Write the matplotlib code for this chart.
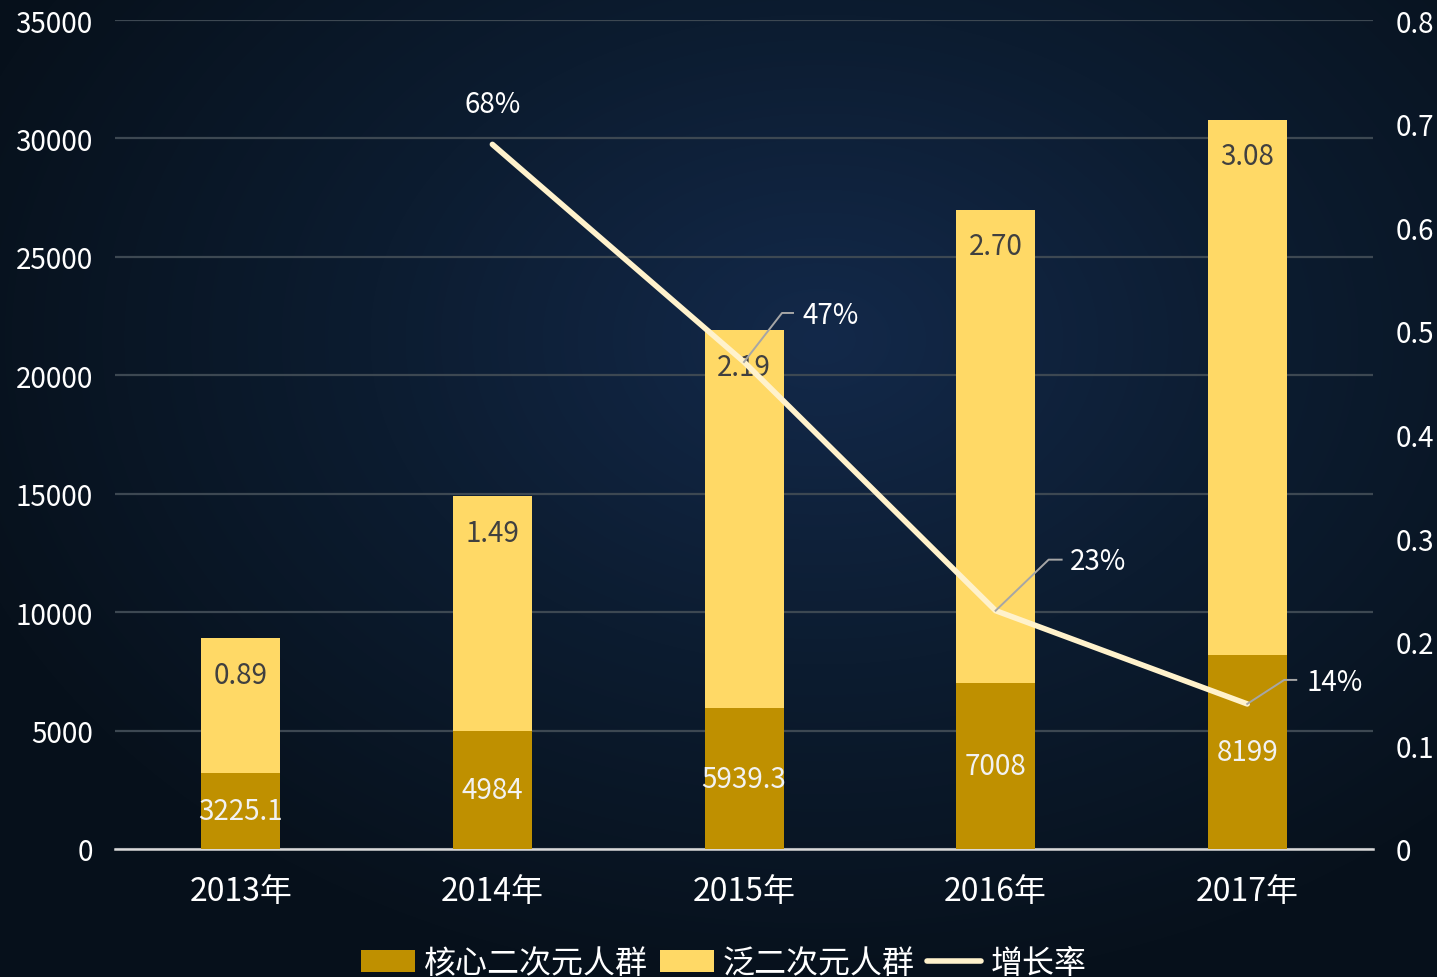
import numpy as np
import matplotlib
matplotlib.use("Agg")
import matplotlib.pyplot as plt
from matplotlib.colors import LinearSegmentedColormap

plt.rcParams['font.family'] = ['Noto Sans CJK SC', 'DejaVu Sans']

# data
years = ['2013年', '2014年', '2015年', '2016年', '2017年']
core = [3225.1, 4984, 5939.3, 7008, 8199]          # 核心二次元人群 (万人)
total_yi = [0.89, 1.49, 2.19, 2.70, 3.08]          # 总人数 (亿人)
growth = [np.nan, 0.68, 0.47, 0.23, 0.14]          # 增长率
growth_labels = ['', '68%', '47%', '23%', '14%']

pan = [t * 10000 - c for t, c in zip(total_yi, core)]  # 泛二次元人群
total = [t * 10000 for t in total_yi]

fig = plt.figure(figsize=(14.37, 9.78), dpi=100)

# background radial gradient
bg = fig.add_axes([0, 0, 1, 1], zorder=-10)
yy, xx = np.mgrid[0:978, 0:1437]
r = np.sqrt(((xx - 820) / 900.0) ** 2 + ((yy - 340) / 650.0) ** 2)
cmap = LinearSegmentedColormap.from_list('bg', ['#13294a', '#0c1c30', '#07111c'])
bg.imshow(np.clip(r, 0, 1), cmap=cmap, aspect='auto', extent=[0, 1, 0, 1])
bg.axis('off')

ax = fig.add_axes([0.080, 0.1309, 0.8755, 0.8476])
ax.patch.set_alpha(0)
ax2 = ax.twinx()
ax2.patch.set_alpha(0)

x = np.arange(len(years))
w = 0.314
ax.bar(x, core, w, color='#BF9000', label='核心二次元人群', zorder=3)
ax.bar(x, pan, w, bottom=core, color='#FFD966', label='泛二次元人群', zorder=3)

ax.set_xlim(-0.5, 4.5)
ax.set_ylim(0, 35000)
ax.set_yticks(range(0, 35001, 5000))
ax.yaxis.grid(True, color='#3d4852', linewidth=1.6, zorder=0)
ax.set_axisbelow(True)
for s in ['top', 'right', 'left']:
    ax.spines[s].set_visible(False)
ax.spines['bottom'].set_color('#d9d9d9')
ax.spines['bottom'].set_linewidth(1.8)
ax.set_xticks(x)
ax.set_xticklabels(years)
ax.tick_params(axis='x', length=0, labelsize=23, colors='white', pad=19)
ax.tick_params(axis='y', length=0, labelsize=20, colors='white', pad=16)

for i in range(len(years)):
    ax.text(x[i], core[i] / 2, f'{core[i]:g}', ha='center', va='center',
            color='#f2f2f2', fontsize=20, zorder=5)
    ax.annotate(f'{total_yi[i]:.2f}', xy=(x[i], total[i]), xytext=(0, -26.5),
                textcoords='offset points', ha='center', va='center',
                color='#404040', fontsize=20, zorder=5)

ax2.plot(x, growth, color='#FFF2CC', linewidth=4, solid_capstyle='round',
         solid_joinstyle='round', label='增长率', zorder=4)
ax2.set_ylim(0, 0.8)
ax2.set_yticks(np.arange(0, 0.81, 0.1))
ax2.set_yticklabels(['0'] + [f'{v:.1f}' for v in np.arange(0.1, 0.81, 0.1)])
ax2.tick_params(axis='y', length=0, labelsize=20, colors='white', pad=16)
for s in ['top', 'right', 'left', 'bottom']:
    ax2.spines[s].set_visible(False)

# growth labels (pixel offsets: elbow dx, elbow dy, end dx, text dx, text dy)
offsets = {
    1: None,
    2: (38, 49, 49, 58, 47),
    3: (53, 51, 66, 74, 50),
    4: (37, 24, 49, 59, 22),
}
for i in range(1, len(years)):
    px, py = ax2.transData.transform((x[i], growth[i]))
    if offsets[i] is None:
        tx, ty = px, py + 40
        ha = 'center'
    else:
        ex, ey, endx, tdx, tdy = offsets[i]
        pts = np.array([(px, py), (px + ex, py + ey), (px + endx, py + ey)])
        pts = ax2.transData.inverted().transform(pts)
        ax2.plot(pts[:, 0], pts[:, 1], color='#a6a6a6', linewidth=1.4, zorder=6)
        tx, ty = px + tdx, py + tdy
        ha = 'left'
    tx, ty = ax2.transData.inverted().transform((tx, ty))
    ax2.text(tx, ty, growth_labels[i], ha=ha, va='center', color='white',
             fontsize=20, zorder=7)

h1, l1 = ax.get_legend_handles_labels()
h2, l2 = ax2.get_legend_handles_labels()
fig.legend(h1 + h2, l1 + l2, loc='center', bbox_to_anchor=(0.5035, 0.014),
           ncol=3, frameon=False, fontsize=23, labelcolor='white',
           handlelength=1.7, handleheight=0.7, handletextpad=0.28,
           columnspacing=0.37, borderaxespad=0)

fig.savefig('out.png', dpi=100)
